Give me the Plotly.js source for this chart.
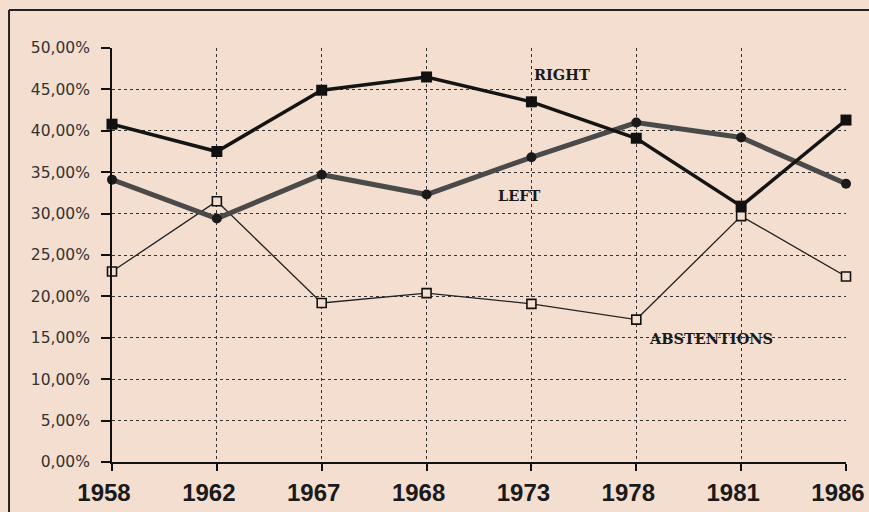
<!DOCTYPE html>
<html>
<head>
<meta charset="utf-8">
<script src="https://cdn.plot.ly/plotly-3.0.1.min.js"></script>
<style>
html,body{margin:0;padding:0;background:#f4ded0;}
#chart{width:869px;height:512px;}
</style>
</head>
<body>
<div id="chart"></div>
<script>
const years = ["1958","1962","1967","1968","1973","1978","1981","1986"];
const right = [40.8, 37.5, 44.9, 46.5, 43.5, 39.1, 30.9, 41.3];
const left = [34.1, 29.4, 34.7, 32.3, 36.8, 41.0, 39.2, 33.6];
const abstentions = [23.0, 31.5, 19.2, 20.4, 19.1, 17.2, 29.7, 22.4];
const yTicks = [0,5,10,15,20,25,30,35,40,45,50];
const yTickText = ["0,00%","5,00%","10,00%","15,00%","20,00%","25,00%","30,00%","35,00%","40,00%","45,00%","50,00%"];

const bg = "#f4ded0";
const labelFont = {family: "DejaVu Serif", size: 14.5, color: "#1a1a1a", weight: "bold"};

const traces = [
  {x: years, y: abstentions, name: "ABSTENTIONS", mode: "lines+markers", cliponaxis: false,
   line: {color: "#222", width: 1.3},
   marker: {symbol: "square", size: 9, color: bg, line: {color: "#111", width: 1.6}}},
  {x: years, y: left, name: "LEFT", mode: "lines+markers", cliponaxis: false,
   line: {color: "#4a4a4a", width: 5},
   marker: {symbol: "circle", size: 10, color: "#1a1a1a"}},
  {x: years, y: right, name: "RIGHT", mode: "lines+markers", cliponaxis: false,
   line: {color: "#141414", width: 3.5},
   marker: {symbol: "square", size: 11, color: "#111"}}
];

const layout = {
  width: 869, height: 512,
  paper_bgcolor: bg, plot_bgcolor: bg,
  margin: {l: 112, r: 23, t: 48, b: 50},
  showlegend: false,
  xaxis: {
    type: "category", range: [0, 7],
    showgrid: true, gridcolor: "#333", griddash: "dot", gridwidth: 1,
    showline: true, linecolor: "#111", linewidth: 2,
    ticks: "outside", ticklen: 7, tickwidth: 2, tickcolor: "#111",
    ticklabelstandoff: 1, ticklabelshift: -8,
    tickfont: {family: "Liberation Sans", size: 24, color: "#1a1a1a", weight: "bold"},
    zeroline: false, automargin: false
  },
  yaxis: {
    range: [0, 50], tickvals: yTicks, ticktext: yTickText,
    showgrid: true, gridcolor: "#333", griddash: "dot", gridwidth: 1,
    showline: true, linecolor: "#111", linewidth: 2,
    ticks: "outside", ticklen: 9, tickwidth: 2, tickcolor: "#111",
    ticklabelstandoff: 8,
    tickfont: {family: "DejaVu Sans", size: 15.5, color: "#333"},
    zeroline: false, automargin: false
  },
  annotations: [
    {x: 4.29, y: 46.85, xref: "x", yref: "y", text: "RIGHT", showarrow: false, font: labelFont},
    {x: 3.89, y: 32.2, xref: "x", yref: "y", text: "LEFT", showarrow: false, font: labelFont},
    {x: 5.71, y: 14.9, xref: "x", yref: "y", text: "ABSTENTIONS", showarrow: false, font: labelFont}
  ],
  shapes: [
    {type: "line", xref: "paper", yref: "paper", x0: -0.1403, x1: 1.1, y0: 1.0918, y1: 1.0918,
     line: {color: "#222", width: 2}},
    {type: "line", xref: "paper", yref: "paper", x0: -0.1403, x1: -0.1403, y0: 1.0918, y1: -0.2,
     line: {color: "#222", width: 2}}
  ]
};

Plotly.newPlot("chart", traces, layout, {displayModeBar: false, staticPlot: true});
</script>
</body>
</html>
